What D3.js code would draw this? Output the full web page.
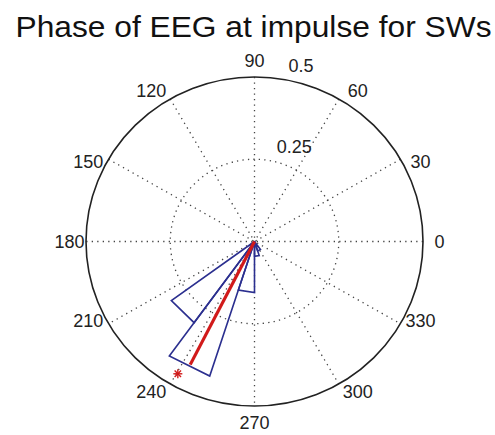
<!DOCTYPE html>
<html>
<head>
<meta charset="utf-8">
<script src="https://cdn.jsdelivr.net/npm/d3@7"></script>
<style>
  html, body { margin: 0; padding: 0; background: #fff; }
  svg { display: block; }
  text { font-family: "Liberation Sans", Arial, sans-serif; }
</style>
</head>
<body>
<svg id="chart" width="495" height="435"></svg>
<script>
// ---- data ----
const title = "Phase of EEG at impulse for SWs";
const angleTicks = [0, 30, 60, 90, 120, 150, 180, 210, 240, 270, 300, 330];
const radialTicks = [0.25, 0.5];
const rMax = 0.5;
const binWidthDeg = 18;
const petalStartDeg = [216, 234, 252, 270, 288];
const petalValue = [0.305, 0.43, 0.155, 0.045, 0.03];
const meanAngleDeg = [243];
const meanLength = [0.42];
const markerAngleDeg = [240.5];
const markerRadius = [0.462];

// ---- layout ----
const svg = d3.select("#chart");
const cx = 254.5, cy = 241.5;
const rx = d3.scaleLinear().domain([0, rMax]).range([0, 168.5]);
const ry = d3.scaleLinear().domain([0, rMax]).range([0, 164.5]);
const rad = d => d * Math.PI / 180;
const px = (deg, r) => cx + rx(r) * Math.cos(rad(deg));
const py = (deg, r) => cy - ry(r) * Math.sin(rad(deg));

svg.append("text")
  .attr("x", 253.5).attr("y", 37)
  .attr("text-anchor", "middle")
  .attr("font-size", 30)
  .attr("textLength", 476)
  .attr("lengthAdjust", "spacingAndGlyphs")
  .attr("fill", "#111")
  .text(title);

const g = svg.append("g");

// spokes
g.selectAll("line.spoke").data(angleTicks.filter(a => a < 180)).enter()
  .append("line")
  .attr("x1", d => px(d, rMax)).attr("y1", d => py(d, rMax))
  .attr("x2", d => px(d + 180, rMax)).attr("y2", d => py(d + 180, rMax))
  .attr("stroke", "#444").attr("stroke-width", 1.3)
  .attr("stroke-dasharray", "1.3,4.2");

// dotted circles
g.selectAll("ellipse.grid").data(radialTicks.filter(r => r < rMax)).enter()
  .append("ellipse")
  .attr("cx", cx).attr("cy", cy)
  .attr("rx", d => rx(d)).attr("ry", d => ry(d))
  .attr("fill", "none")
  .attr("stroke", "#444").attr("stroke-width", 1.3)
  .attr("stroke-dasharray", "1.3,4.2");

// outer circle
g.append("ellipse")
  .attr("cx", cx).attr("cy", cy)
  .attr("rx", rx(rMax)).attr("ry", ry(rMax))
  .attr("fill", "none").attr("stroke", "#222").attr("stroke-width", 1.6);

// radial tick labels
g.selectAll("text.rlab").data(radialTicks).enter()
  .append("text")
  .attr("x", d => px(82, d + 0.0125) + 10)
  .attr("y", d => py(82, d + 0.0125) - 3)
  .attr("font-size", 18).attr("fill", "#222")
  .text(d => String(d));

// angle labels (placed slightly toward the horizontal axis, as in the source)
const labAng = d => d - 4.5 * Math.sin(rad(2 * d));
const labR = 185;
g.selectAll("text.alab").data(angleTicks).enter()
  .append("text")
  .attr("x", d => cx + labR * Math.cos(rad(labAng(d))))
  .attr("y", d => cy - (labR - 4) * Math.sin(rad(labAng(d))) + 6)
  .attr("text-anchor", "middle")
  .attr("font-size", 18).attr("fill", "#222")
  .text(d => String(d));

// rose petals
const petals = petalStartDeg.map((s, i) => ({ s, e: s + binWidthDeg, v: petalValue[i] }));
const line = d3.line();
g.selectAll("path.petal").data(petals).enter()
  .append("path")
  .attr("d", d => line([[cx, cy], [px(d.s, d.v), py(d.s, d.v)], [px(d.e, d.v), py(d.e, d.v)], [cx, cy]]))
  .attr("fill", "none")
  .attr("stroke", "#2b2f8f").attr("stroke-width", 1.6)
  .attr("stroke-linejoin", "miter");

// mean vector
g.selectAll("line.mean").data(meanAngleDeg).enter()
  .append("line")
  .attr("x1", cx).attr("y1", cy)
  .attr("x2", (d, i) => px(d, meanLength[i])).attr("y2", (d, i) => py(d, meanLength[i]))
  .attr("stroke", "#d11a1a").attr("stroke-width", 3.2);

// asterisk marker
const star = g.selectAll("g.star").data(markerAngleDeg).enter()
  .append("g")
  .attr("transform", (d, i) => `translate(${px(d, markerRadius[i])},${py(d, markerRadius[i])})`);
[0, 45, 90, 135].forEach(a => {
  star.append("line")
    .attr("x1", -4.5 * Math.cos(rad(a))).attr("y1", -4.5 * Math.sin(rad(a)))
    .attr("x2", 4.5 * Math.cos(rad(a))).attr("y2", 4.5 * Math.sin(rad(a)))
    .attr("stroke", "#d11a1a").attr("stroke-width", 1.4);
});
</script>
</body>
</html>
